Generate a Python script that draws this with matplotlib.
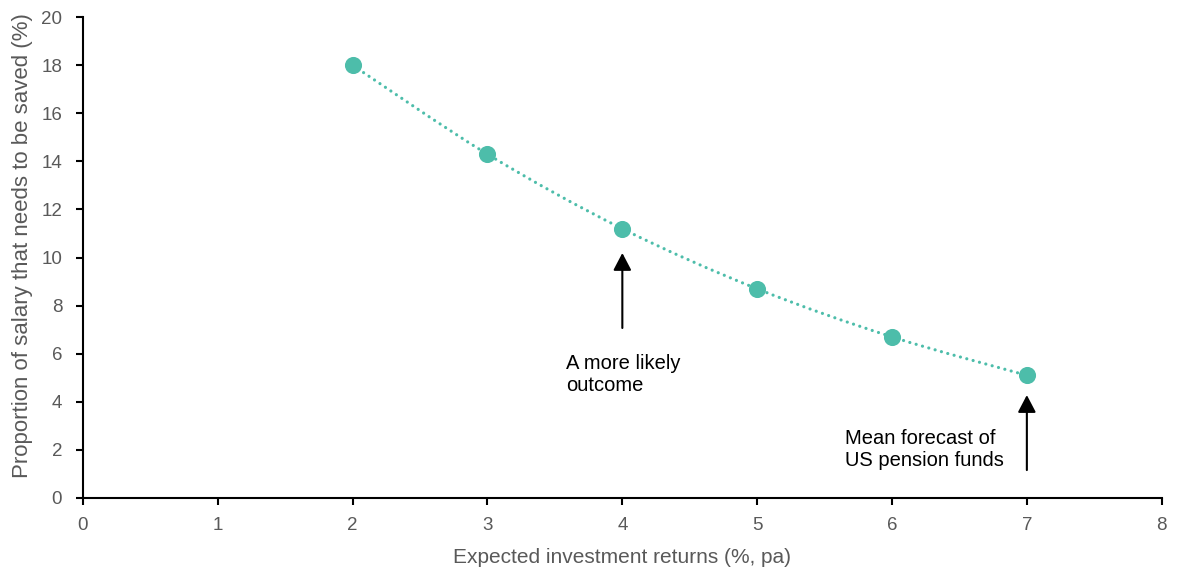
import matplotlib
matplotlib.use("Agg")
import matplotlib.pyplot as plt
from matplotlib.path import Path
from matplotlib.patches import PathPatch
import numpy as np

plt.rcParams['font.family'] = ['Liberation Sans', 'DejaVu Sans']

returns = [2, 3, 4, 5, 6, 7]
saving_rate = [18.0, 14.3, 11.2, 8.7, 6.7, 5.1]
x_ticks = [0, 1, 2, 3, 4, 5, 6, 7, 8]
y_ticks = [0, 2, 4, 6, 8, 10, 12, 14, 16, 18, 20]

teal = '#4DBDAA'
grey = '#595959'

fig = plt.figure(figsize=(11.77, 5.73), dpi=100)
ax = fig.add_axes([0.0705, 0.131, 0.9165, 0.839])

# Smoothed connecting line (Catmull-Rom curve expressed as cubic Bezier path)
xs = np.array(returns, dtype=float)
ys = np.array(saving_rate, dtype=float)
verts = [(xs[0], ys[0])]
codes = [Path.MOVETO]
n = len(xs)
for i in range(n - 1):
    p0 = (xs[max(i - 1, 0)], ys[max(i - 1, 0)])
    p1 = (xs[i], ys[i])
    p2 = (xs[i + 1], ys[i + 1])
    p3 = (xs[min(i + 2, n - 1)], ys[min(i + 2, n - 1)])
    c1 = (p1[0] + (p2[0] - p0[0]) / 6, p1[1] + (p2[1] - p0[1]) / 6)
    c2 = (p2[0] - (p3[0] - p1[0]) / 6, p2[1] - (p3[1] - p1[1]) / 6)
    verts += [c1, c2, p2]
    codes += [Path.CURVE4] * 3
curve = PathPatch(Path(verts, codes), facecolor='none', edgecolor=teal,
                  lw=2.3, linestyle=(0, (0.01, 2.05)), capstyle='round', zorder=2)
ax.add_patch(curve)

ax.plot(returns, saving_rate, linestyle='none', marker='o', markersize=11.3,
        color=teal, zorder=3)

# Annotations
arrow_kw = dict(arrowstyle='-|>,head_length=1.05,head_width=0.55', color='black',
                lw=1.5, shrinkA=0, shrinkB=0, mutation_scale=10)
ax.annotate('', xy=(4, 10.19), xytext=(4, 7.07), arrowprops=arrow_kw)
ax.text(3.58, 6.0, 'A more likely\noutcome', fontsize=14.5, va='top', ha='left',
        color='black', linespacing=1.2)
ax.annotate('', xy=(7, 4.28), xytext=(7, 1.16), arrowprops=arrow_kw)
ax.text(5.65, 2.88, 'Mean forecast of\nUS pension funds', fontsize=14.5, va='top',
        ha='left', color='black', linespacing=1.2)

ax.set_xlim(0, 8)
ax.set_ylim(0, 20)
ax.set_xticks(x_ticks)
ax.set_yticks(y_ticks)
ax.spines['top'].set_visible(False)
ax.spines['right'].set_visible(False)
for s in ('left', 'bottom'):
    ax.spines[s].set_linewidth(1.5)
    ax.spines[s].set_color('black')
ax.tick_params(axis='both', direction='out', length=5, width=1.5, color='black',
               labelcolor=grey, labelsize=13.5)
ax.tick_params(axis='x', pad=9)
ax.tick_params(axis='y', pad=10)

ax.set_xlabel('Expected investment returns (%, pa)', fontsize=15, color=grey, labelpad=10)
ax.set_ylabel('Proportion of salary that needs to be saved (%)', fontsize=16,
              color=grey, labelpad=6)
ax.yaxis.label.set_y(0.524)

fig.savefig('out.png', dpi=100)
